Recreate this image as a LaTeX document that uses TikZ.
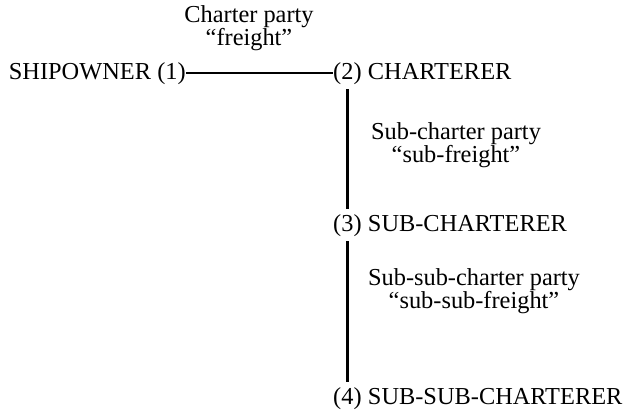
\documentclass[tikz,border=0pt]{standalone}
\usepackage{fontspec}
\setmainfont{Liberation Serif}
\usetikzlibrary{positioning}

\tikzset{
	party/.style={inner sep=0pt, font=\fontsize{20.8}{22}\selectfont},
	contract/.style={inner sep=0pt, align=center, font=\fontsize{20.8}{20}\selectfont},
	link/.style={line width=1.7pt},
	sublink/.style={line width=2.5pt, shorten <=4pt, shorten >=4pt}
}

\begin{document}
\begin{tikzpicture}[x=0.03cm, y=-0.03cm]
	\useasboundingbox (0,0) rectangle (627,412);

	\node[party, anchor=base east] (p1) at (186,79) {(1)};
	\node[party, anchor=base west] (p2) at (333,79) {(2)};
	\node[party, anchor=base west] (p3) at (333,231) {(3)};
	\node[party, anchor=base west] (p4) at (333,404) {(4)};

	\node[party, base left=5pt of p1] (owner) {SHIPOWNER};
	\node[party, base right=5pt of p2] (charterer) {CHARTERER};
	\node[party, base right=5pt of p3] (sub) {SUB-CHARTERER};
	\node[party, base right=5pt of p4] (subsub) {SUB-SUB-CHARTERER};

	\draw[link] (p1.east) -- (p2.west);
	\draw[sublink] (p2.south) -- (p3.north);
	\draw[sublink] (p3.south) -- (p4.north);

	\node[contract] (cp) at (249,28) {Charter party\\“freight”};
	\node[contract] (scp) at (456,145) {Sub-charter party\\“sub-freight”};
	\node[contract] (sscp) at (474,291) {Sub-sub-charter party\\“sub-sub-freight”};

\end{tikzpicture}
\end{document}
